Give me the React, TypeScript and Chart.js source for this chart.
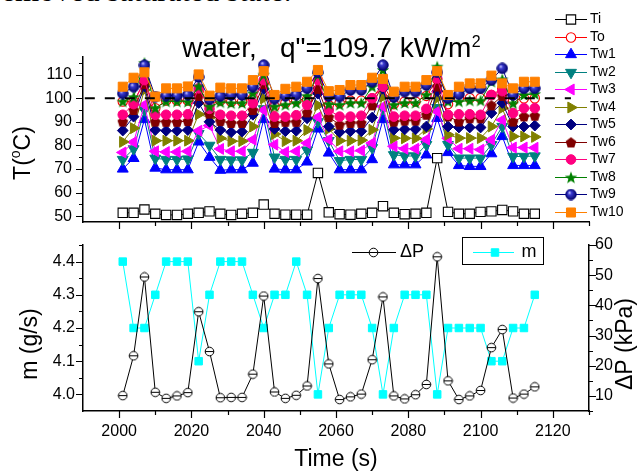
import React, { useEffect, useRef } from 'react';
import { Chart, registerables } from 'chart.js';
import { drawPoint } from 'chart.js/helpers';

Chart.register(...registerables);

const FONT = "'Liberation Sans', Arial, Helvetica, sans-serif";

// ---------------- data ----------------
const TIME = [2001, 2004, 2007, 2010, 2013, 2016, 2019, 2022, 2025, 2028, 2031, 2034, 2037, 2040, 2043, 2046, 2049, 2052, 2055, 2058, 2061, 2064, 2067, 2070, 2073, 2076, 2079, 2082, 2085, 2088, 2091, 2094, 2097, 2100, 2103, 2106, 2109, 2112, 2115];

const TI = [51.4, 51.4, 52.8, 51.0, 50.5, 50.5, 51.0, 51.4, 52.0, 51.0, 50.5, 51.0, 51.4, 54.9, 51.0, 50.6, 50.6, 50.6, 68.3, 51.6, 50.8, 50.6, 51.0, 51.4, 54.2, 51.4, 50.8, 51.0, 51.4, 74.6, 51.8, 51.0, 51.0, 51.8, 52.0, 52.6, 52.0, 51.0, 51.0];
const TO = [98.6, 98.6, 107.0, 95.8, 99.0, 99.0, 99.0, 103.0, 97.2, 99.0, 98.5, 98.5, 100.0, 107.0, 96.5, 98.0, 99.0, 99.5, 106.0, 97.0, 98.0, 99.0, 99.0, 100.0, 106.0, 97.5, 98.6, 98.6, 101.0, 108.0, 97.5, 100.0, 100.0, 100.0, 101.4, 104.0, 99.0, 100.0, 100.0];
const TW1 = [70.0, 74.5, 91.0, 70.4, 69.7, 69.7, 69.7, 81.5, 75.0, 69.5, 69.7, 69.7, 72.5, 91.0, 70.0, 69.7, 69.7, 73.0, 87.0, 76.8, 69.7, 69.7, 69.7, 74.0, 91.0, 71.8, 71.8, 71.8, 76.0, 91.5, 77.0, 71.5, 71.1, 71.1, 76.5, 83.8, 71.5, 71.5, 71.5];
const TW2 = [74.0, 78.5, 95.0, 74.5, 74.0, 74.0, 74.2, 85.0, 80.0, 74.0, 73.8, 73.8, 77.0, 95.5, 75.0, 74.0, 74.0, 78.0, 90.0, 82.0, 73.5, 74.0, 74.0, 79.0, 95.5, 76.0, 75.5, 75.5, 80.3, 96.0, 80.3, 74.6, 74.6, 74.6, 80.3, 88.0, 75.3, 75.3, 75.5];
const TW3 = [77.0, 81.4, 97.2, 77.5, 77.2, 77.2, 77.5, 86.2, 88.4, 78.5, 77.5, 77.5, 82.4, 95.0, 80.3, 77.2, 77.5, 81.0, 92.0, 82.5, 77.5, 77.5, 77.8, 81.0, 96.5, 79.6, 78.6, 78.6, 82.5, 94.4, 83.0, 78.6, 78.6, 78.2, 82.4, 90.8, 79.1, 79.1, 79.0];
const TW4 = [81.5, 87.3, 103.5, 82.0, 82.0, 82.0, 82.0, 93.2, 91.8, 83.0, 81.8, 81.8, 88.0, 100.0, 84.8, 81.8, 82.0, 86.5, 97.0, 87.0, 82.0, 82.0, 82.2, 86.6, 100.7, 83.1, 83.0, 83.0, 87.0, 100.0, 84.5, 83.1, 83.1, 83.1, 88.0, 95.8, 83.8, 83.8, 83.6];
const TW5 = [86.3, 92.2, 105.0, 86.5, 86.2, 86.2, 86.5, 98.0, 90.0, 86.5, 85.6, 85.8, 93.0, 104.0, 87.0, 86.0, 86.2, 91.5, 102.0, 88.0, 85.6, 86.0, 86.0, 91.8, 104.0, 86.6, 86.8, 86.8, 88.0, 103.0, 88.0, 87.6, 87.6, 87.6, 93.7, 98.0, 88.0, 88.0, 88.4];
const TW6 = [90.1, 95.0, 106.0, 90.1, 90.0, 90.0, 90.3, 101.0, 93.5, 90.3, 89.5, 89.5, 95.0, 106.0, 89.5, 90.0, 90.0, 94.0, 104.0, 92.0, 88.8, 89.5, 89.5, 97.0, 106.0, 90.1, 90.5, 90.5, 93.0, 105.0, 92.3, 90.1, 91.5, 91.5, 97.0, 101.0, 90.1, 92.3, 92.6];
const TW7 = [93.0, 97.5, 107.7, 93.0, 93.0, 93.0, 93.2, 104.2, 95.5, 93.0, 92.6, 92.6, 97.9, 107.7, 92.2, 92.2, 92.8, 97.2, 107.7, 95.0, 92.2, 92.2, 92.6, 100.0, 104.9, 92.2, 92.6, 92.6, 95.5, 108.4, 93.0, 93.2, 93.2, 93.0, 101.4, 103.0, 93.7, 95.8, 95.8];
const TW8 = [98.6, 100.5, 115.0, 95.8, 98.6, 98.6, 98.5, 105.0, 96.5, 98.3, 97.9, 97.9, 102.1, 110.0, 96.5, 97.2, 98.0, 101.0, 110.0, 97.5, 97.2, 98.0, 98.0, 104.9, 112.0, 97.2, 98.0, 98.0, 101.4, 113.4, 98.6, 98.6, 99.0, 99.0, 107.0, 108.0, 97.8, 101.4, 101.8];
const TW9 = [102.0, 104.9, 114.0, 100.7, 101.1, 101.1, 101.5, 109.0, 99.5, 101.0, 101.4, 101.4, 104.9, 114.1, 99.8, 101.0, 101.5, 104.2, 111.0, 101.0, 100.7, 103.5, 103.5, 107.0, 114.1, 100.5, 102.8, 102.8, 105.6, 111.0, 100.0, 101.7, 104.2, 104.2, 107.7, 112.7, 101.4, 104.2, 104.2];
const TW10 = [104.9, 108.7, 111.0, 100.7, 104.2, 104.2, 105.0, 110.1, 101.1, 104.5, 104.2, 104.2, 107.7, 111.5, 101.4, 104.0, 104.9, 107.0, 112.0, 103.0, 103.5, 105.6, 105.6, 108.7, 108.2, 102.8, 104.9, 104.9, 107.7, 111.5, 101.4, 104.9, 106.3, 106.3, 109.6, 106.3, 104.2, 107.0, 107.0];

const DP = [10.1, 23.3, 49.4, 11.2, 9.2, 10.0, 11.1, 37.9, 24.7, 9.4, 9.5, 9.5, 17.2, 43.1, 11.3, 9.2, 10.2, 13.3, 48.9, 20.6, 8.8, 9.7, 10.6, 22.0, 42.8, 10.0, 9.0, 10.4, 13.8, 56.1, 15.0, 8.8, 10.0, 11.8, 26.0, 32.0, 9.3, 10.6, 13.0];
const MFLOW = [4.4, 4.2, 4.2, 4.3, 4.4, 4.4, 4.4, 4.1, 4.3, 4.4, 4.4, 4.4, 4.3, 4.2, 4.3, 4.3, 4.4, 4.3, 4.0, 4.2, 4.3, 4.3, 4.3, 4.2, 4.0, 4.2, 4.3, 4.3, 4.3, 4.0, 4.2, 4.2, 4.2, 4.2, 4.1, 4.1, 4.2, 4.2, 4.3];

const SAT_LINE_X = [1990.5, 2125];
const SAT_T = 100;

const X_MAJOR = [2000, 2020, 2040, 2060, 2080, 2100, 2120];
const X_MINOR = [2010, 2030, 2050, 2070, 2090, 2110, 2130];
const T_MAJOR = [50, 60, 70, 80, 90, 100, 110];
const T_MINOR = [55, 65, 75, 85, 95, 105, 115];
const M_MAJOR = [4.0, 4.1, 4.2, 4.3, 4.4];
const M_MINOR = [4.05, 4.15, 4.25, 4.35, 4.45];
const P_MAJOR = [10, 20, 30, 40, 50, 60];
const P_MINOR = [5, 15, 25, 35, 45, 55];

const LABELS = ['Ti', 'To', 'Tw1', 'Tw2', 'Tw3', 'Tw4', 'Tw5', 'Tw6', 'Tw7', 'Tw8', 'Tw9', 'Tw10'];
const SERIES_DATA = [TI, TO, TW1, TW2, TW3, TW4, TW5, TW6, TW7, TW8, TW9, TW10];
const COLORS = ['#000000', '#FF0000', '#0000FF', '#008080', '#FF00FF', '#808000', '#000080', '#800000', '#FF0080', '#008000', '#000080', '#FF8000'];

// ---------------- marker images ----------------
function mk(size: number, draw: (g: CanvasRenderingContext2D, s: number) => void) {
  const c = document.createElement('canvas');
  c.width = size;
  c.height = size;
  const g = c.getContext('2d') as CanvasRenderingContext2D;
  draw(g, size);
  return c;
}
function pentagonImg(color: string) {
  return mk(12, (g, s) => {
    const cx = s / 2, cy = s / 2 + 0.4, r = 5.6;
    g.beginPath();
    for (let i = 0; i < 5; i++) {
      const a = -Math.PI / 2 + (i * 2 * Math.PI) / 5;
      const px = cx + r * Math.cos(a), py = cy + r * Math.sin(a);
      if (i === 0) g.moveTo(px, py); else g.lineTo(px, py);
    }
    g.closePath();
    g.fillStyle = color;
    g.fill();
  });
}
function starImg(color: string) {
  return mk(14, (g, s) => {
    const cx = s / 2, cy = s / 2 + 0.5, ro = 6.6, ri = 2.7;
    g.beginPath();
    for (let i = 0; i < 10; i++) {
      const a = -Math.PI / 2 + (i * Math.PI) / 5;
      const r = i % 2 === 0 ? ro : ri;
      const px = cx + r * Math.cos(a), py = cy + r * Math.sin(a);
      if (i === 0) g.moveTo(px, py); else g.lineTo(px, py);
    }
    g.closePath();
    g.fillStyle = color;
    g.fill();
  });
}
function sphereImg() {
  return mk(12, (g, s) => {
    const grd = g.createRadialGradient(4.3, 4.0, 0.3, 6, 6, 5.6);
    grd.addColorStop(0, '#c8c8ff');
    grd.addColorStop(0.3, '#3a3ad0');
    grd.addColorStop(1, '#000060');
    g.beginPath();
    g.arc(s / 2, s / 2, 5.3, 0, Math.PI * 2);
    g.fillStyle = grd;
    g.fill();
    g.strokeStyle = '#000080';
    g.lineWidth = 0.8;
    g.stroke();
  });
}
function thetaImg() {
  return mk(11, (g, s) => {
    g.beginPath();
    g.arc(s / 2, s / 2, 4.3, 0, Math.PI * 2);
    g.fillStyle = '#ffffff';
    g.fill();
    g.strokeStyle = '#000';
    g.lineWidth = 1;
    g.stroke();
    g.beginPath();
    g.moveTo(1.2, s / 2);
    g.lineTo(s - 1.2, s / 2);
    g.stroke();
  });
}

type Marker = { style: any; radius: number; rot: number; fill: string; bw: number };
function markers(): Marker[] {
  return [
    { style: 'rect', radius: 6.6, rot: 0, fill: '#ffffff', bw: 1.1 },
    { style: 'circle', radius: 4.7, rot: 0, fill: '#ffffff', bw: 1.1 },
    { style: 'triangle', radius: 6.3, rot: 0, fill: COLORS[2], bw: 1 },
    { style: 'triangle', radius: 6.3, rot: 180, fill: COLORS[3], bw: 1 },
    { style: 'triangle', radius: 6.3, rot: -90, fill: COLORS[4], bw: 1 },
    { style: 'triangle', radius: 6.3, rot: 90, fill: COLORS[5], bw: 1 },
    { style: 'rectRot', radius: 5.4, rot: 0, fill: COLORS[6], bw: 1 },
    { style: pentagonImg(COLORS[7]), radius: 5.5, rot: 0, fill: COLORS[7], bw: 1 },
    { style: 'circle', radius: 4.8, rot: 0, fill: COLORS[8], bw: 1 },
    { style: starImg(COLORS[9]), radius: 6, rot: 0, fill: COLORS[9], bw: 1 },
    { style: sphereImg(), radius: 5.5, rot: 0, fill: COLORS[10], bw: 1 },
    { style: 'rect', radius: 6.4, rot: 0, fill: COLORS[11], bw: 1 },
  ];
}

function tickMarks(ctx: CanvasRenderingContext2D, scale: any, vals: number[], len: number, side: string) {
  ctx.beginPath();
  vals.forEach((v) => {
    const p = Math.round(scale.getPixelForValue(v)) + 0.5;
    if (side === 'bottom') {
      const y0 = scale.top;
      ctx.moveTo(p, y0);
      ctx.lineTo(p, y0 + len);
    } else if (side === 'left') {
      const x0 = scale.right;
      ctx.moveTo(x0, p);
      ctx.lineTo(x0 - len, p);
    } else {
      const x0 = scale.left;
      ctx.moveTo(x0, p);
      ctx.lineTo(x0 + len, p);
    }
  });
  ctx.stroke();
}

function rotatedText(ctx: CanvasRenderingContext2D, parts: { t: string; size: number; dy: number }[], cx: number, cy: number) {
  ctx.save();
  ctx.translate(cx, cy);
  ctx.rotate(-Math.PI / 2);
  ctx.textAlign = 'left';
  ctx.textBaseline = 'alphabetic';
  let total = 0;
  const ws = parts.map((p) => {
    ctx.font = `${p.size}px ${FONT}`;
    const w = ctx.measureText(p.t).width;
    total += w;
    return w;
  });
  let x = -total / 2;
  parts.forEach((p, i) => {
    ctx.font = `${p.size}px ${FONT}`;
    ctx.fillText(p.t, x, p.dy);
    x += ws[i];
  });
  ctx.restore();
}

const noPadY = (w: number) => (s: any) => {
  s.width = w;
  s.paddingTop = 0;
  s.paddingBottom = 0;
};
const noPadX = (h: number) => (s: any) => {
  s.height = h;
  s.paddingLeft = 0;
  s.paddingRight = 0;
};
const plainLabel = (v: any) => String(v);

const common = {
  responsive: false,
  animation: false as const,
  devicePixelRatio: 1,
  events: [] as any[],
};

export default function App() {
  const topRef = useRef<HTMLCanvasElement>(null);
  const botRef = useRef<HTMLCanvasElement>(null);

  useEffect(() => {
    Chart.defaults.font.family = FONT;
    Chart.defaults.color = '#000';
    const mks = markers();

    const seriesSets = LABELS.map((lab, i) => ({
      label: lab,
      data: TIME.map((t, j) => ({ x: t, y: SERIES_DATA[i][j] })),
      borderColor: COLORS[i],
      backgroundColor: mks[i].fill,
      borderWidth: 1,
      pointStyle: mks[i].style,
      pointRadius: mks[i].radius,
      pointRotation: mks[i].rot,
      pointBorderColor: COLORS[i],
      pointBackgroundColor: mks[i].fill,
      pointBorderWidth: mks[i].bw,
      tension: 0,
      order: 30 - i,
      clip: false as any,
    }));
    const satSet = {
      label: 'sat',
      data: SAT_LINE_X.map((x) => ({ x, y: SAT_T })),
      borderColor: '#000',
      borderWidth: 2.2,
      borderDash: [10, 10],
      pointRadius: 0,
      order: 0,
    };

    const topDeco = {
      id: 'topDeco',
      afterDraw(chart: any) {
        const ctx = chart.ctx as CanvasRenderingContext2D;
        const xs = chart.scales.x, ys = chart.scales.y;
        ctx.save();
        ctx.strokeStyle = '#000';
        ctx.lineWidth = 1.2;
        tickMarks(ctx, xs, X_MAJOR, 7, 'bottom');
        tickMarks(ctx, xs, X_MINOR, 4, 'bottom');
        tickMarks(ctx, ys, T_MAJOR, 7, 'left');
        tickMarks(ctx, ys, T_MINOR, 4, 'left');
        // title
        ctx.fillStyle = '#000';
        ctx.textAlign = 'left';
        ctx.textBaseline = 'alphabetic';
        ctx.font = `28px ${FONT}`;
        const t1 = 'water,   q"=109.7 kW/m';
        ctx.fillText(t1, 182, 57);
        const w1 = ctx.measureText(t1).width;
        ctx.font = `16px ${FONT}`;
        ctx.fillText('2', 182 + w1 + 0.5, 46.5);
        // y title
        rotatedText(ctx, [
          { t: 'T(', size: 23, dy: 0 },
          { t: 'o', size: 14, dy: -10 },
          { t: 'C)', size: 23, dy: 0 },
        ], 30, 153);
        // legend
        const y0 = 19, dy = 17.5;
        LABELS.forEach((lab, i) => {
          const yy = y0 + dy * i;
          ctx.strokeStyle = COLORS[i];
          ctx.lineWidth = 1;
          ctx.beginPath();
          ctx.moveTo(555, Math.round(yy) + 0.5);
          ctx.lineTo(587, Math.round(yy) + 0.5);
          ctx.stroke();
          ctx.fillStyle = mks[i].fill;
          ctx.strokeStyle = COLORS[i];
          ctx.lineWidth = mks[i].bw;
          drawPoint(ctx, { pointStyle: mks[i].style, rotation: mks[i].rot, radius: mks[i].radius, borderWidth: mks[i].bw } as any, 571, Math.round(yy) + 0.5);
          ctx.fillStyle = '#000';
          ctx.font = `14px ${FONT}`;
          ctx.textAlign = 'left';
          ctx.textBaseline = 'middle';
          ctx.fillText(lab, 590, yy + 0.5);
        });
        ctx.restore();
      },
    };

    const top = new Chart(topRef.current as HTMLCanvasElement, {
      type: 'line',
      data: { datasets: [satSet, ...seriesSets] as any },
      options: {
        ...common,
        layout: { padding: { top: 57, right: 51, left: 0, bottom: 0 } },
        plugins: { legend: { display: false }, tooltip: { enabled: false }, title: { display: false } },
        scales: {
          x: {
            type: 'linear',
            min: 1990,
            max: 2130,
            afterBuildTicks: (s: any) => { s.ticks = X_MAJOR.map((v) => ({ value: v })); },
            afterFit: noPadX(13),
            ticks: { display: false },
            grid: { display: false, drawTicks: false },
            border: { display: true, color: '#000', width: 1.5 },
          },
          y: {
            type: 'linear',
            min: 47.5,
            max: 117.5,
            afterBuildTicks: (s: any) => { s.ticks = T_MAJOR.map((v) => ({ value: v })); },
            afterFit: noPadY(83),
            ticks: { font: { size: 16, family: FONT }, color: '#000', padding: 11, callback: plainLabel },
            grid: { display: false, drawTicks: false },
            border: { display: true, color: '#000', width: 1.5 },
          },
        },
      } as any,
      plugins: [topDeco],
    });

    const botDeco = {
      id: 'botDeco',
      afterDraw(chart: any) {
        const ctx = chart.ctx as CanvasRenderingContext2D;
        const xs = chart.scales.x, ys = chart.scales.y, y1 = chart.scales.y1;
        ctx.save();
        ctx.strokeStyle = '#000';
        ctx.lineWidth = 1.2;
        tickMarks(ctx, xs, X_MAJOR, 7, 'bottom');
        tickMarks(ctx, xs, X_MINOR, 4, 'bottom');
        tickMarks(ctx, ys, M_MAJOR, 7, 'left');
        tickMarks(ctx, ys, M_MINOR, 4, 'left');
        tickMarks(ctx, y1, P_MAJOR, 7, 'right');
        tickMarks(ctx, y1, P_MINOR, 4, 'right');
        ctx.fillStyle = '#000';
        // axis titles
        ctx.font = `23px ${FONT}`;
        ctx.textAlign = 'center';
        ctx.textBaseline = 'alphabetic';
        ctx.fillText('Time (s)', 336, 231);
        rotatedText(ctx, [{ t: 'm (g/s)', size: 23, dy: 0 }], 37, 109);
        rotatedText(ctx, [{ t: '\u0394P (kPa)', size: 23, dy: 0 }], 632, 109);
        // legend dP
        const ly = 16.5;
        ctx.strokeStyle = '#000';
        ctx.lineWidth = 1;
        ctx.beginPath();
        ctx.moveTo(352, Math.round(ly) + 0.5);
        ctx.lineTo(396, Math.round(ly) + 0.5);
        ctx.stroke();
        drawPoint(ctx, { pointStyle: thetaImg(), rotation: 0, radius: 5, borderWidth: 1 } as any, 373.5, Math.round(ly) + 0.5);
        ctx.font = `18px ${FONT}`;
        ctx.textAlign = 'left';
        ctx.textBaseline = 'middle';
        ctx.fillStyle = '#000';
        ctx.fillText('\u0394P', 400, ly + 1);
        // legend m (boxed)
        ctx.strokeStyle = '#000';
        ctx.lineWidth = 1;
        ctx.strokeRect(462.5, 2.5, 81, 27);
        ctx.strokeStyle = '#00FFFF';
        ctx.beginPath();
        ctx.moveTo(473, 17.5);
        ctx.lineTo(514, 17.5);
        ctx.stroke();
        ctx.fillStyle = '#00FFFF';
        drawPoint(ctx, { pointStyle: 'rect', rotation: 0, radius: 5.3, borderWidth: 1 } as any, 495, 17.5);
        ctx.fillStyle = '#000';
        ctx.font = `18px ${FONT}`;
        ctx.fillText('m', 521.5, 17.5);
        ctx.restore();
      },
    };

    const bot = new Chart(botRef.current as HTMLCanvasElement, {
      type: 'line',
      data: {
        datasets: [
          {
            label: '\u0394P',
            data: TIME.map((t, j) => ({ x: t, y: DP[j] })),
            yAxisID: 'y1',
            borderColor: '#000',
            borderWidth: 1,
            pointStyle: thetaImg() as any,
            pointRadius: 5,
            tension: 0,
            order: 0,
            clip: false as any,
          },
          {
            label: 'm',
            data: TIME.map((t, j) => ({ x: t, y: MFLOW[j] })),
            yAxisID: 'y',
            borderColor: '#00FFFF',
            backgroundColor: '#00FFFF',
            borderWidth: 1,
            pointStyle: 'rect',
            pointRadius: 5.3,
            pointBackgroundColor: '#00FFFF',
            pointBorderColor: '#00FFFF',
            tension: 0,
            order: 1,
            clip: false as any,
          },
        ] as any,
      },
      options: {
        ...common,
        layout: { padding: { top: 10, right: 0, left: 0, bottom: 0 } },
        plugins: { legend: { display: false }, tooltip: { enabled: false } },
        scales: {
          x: {
            type: 'linear',
            min: 1990,
            max: 2130,
            afterBuildTicks: (s: any) => { s.ticks = X_MAJOR.map((v) => ({ value: v })); },
            afterFit: noPadX(62),
            ticks: { font: { size: 16, family: FONT }, color: '#000', padding: 11, maxRotation: 0, callback: plainLabel },
            grid: { display: false, drawTicks: false },
            border: { display: true, color: '#000', width: 1.5 },
          },
          y: {
            type: 'linear',
            position: 'left',
            min: 3.95,
            max: 4.45,
            afterBuildTicks: (s: any) => { s.ticks = M_MAJOR.map((v) => ({ value: v })); },
            afterFit: noPadY(83),
            ticks: { font: { size: 16, family: FONT }, color: '#000', padding: 8, callback: (v: any) => Number(v).toFixed(1) },
            grid: { display: false, drawTicks: false },
            border: { display: true, color: '#000', width: 1.5 },
          },
          y1: {
            type: 'linear',
            position: 'right',
            min: 5,
            max: 60,
            afterBuildTicks: (s: any) => { s.ticks = P_MAJOR.map((v) => ({ value: v })); },
            afterFit: noPadY(51),
            ticks: { font: { size: 16, family: FONT }, color: '#000', padding: 6, callback: plainLabel },
            grid: { display: false, drawTicks: false },
            border: { display: true, color: '#000', width: 1.5 },
          },
        },
      } as any,
      plugins: [botDeco],
    });

    return () => {
      top.destroy();
      bot.destroy();
    };
  }, []);

  return (
    <div style={{ position: 'fixed', left: 0, top: 0, width: 640, height: 473, overflow: 'hidden', background: '#fff' }}>
      <div
        style={{
          position: 'absolute',
          left: -9,
          top: -25,
          fontFamily: "'Liberation Serif', 'Times New Roman', serif",
          fontSize: 31,
          lineHeight: '31px',
          whiteSpace: 'nowrap',
          color: '#000',
        }}
      >
        removed saturated state.
      </div>
      <canvas ref={topRef} width={640} height={235} style={{ position: 'absolute', left: 0, top: 0, width: 640, height: 235, display: 'block' }} />
      <canvas ref={botRef} width={640} height={238} style={{ position: 'absolute', left: 0, top: 235, width: 640, height: 238, display: 'block' }} />
    </div>
  );
}
